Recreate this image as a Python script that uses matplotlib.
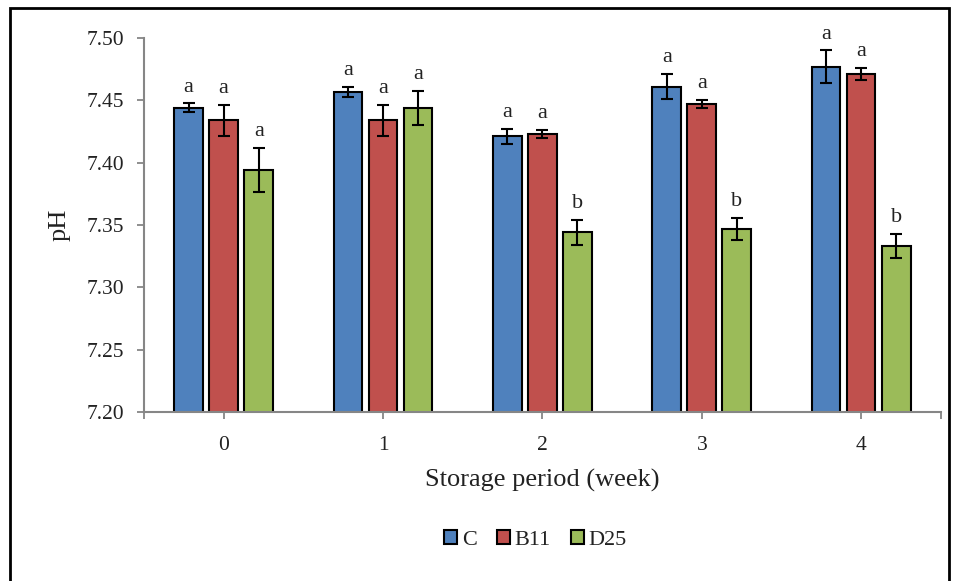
import numpy as np
import matplotlib.pyplot as plt
from matplotlib.patches import Rectangle

weeks = ['0', '1', '2', '3', '4']
series = ['C', 'B11', 'D25']
c_vals = [7.444, 7.457, 7.421, 7.461, 7.477]
c_err = [0.0035, 0.004, 0.006, 0.010, 0.013]
b11_vals = [7.434, 7.434, 7.423, 7.447, 7.471]
b11_err = [0.0125, 0.0125, 0.003, 0.003, 0.005]
d25_vals = [7.394, 7.444, 7.344, 7.347, 7.333]
d25_err = [0.0175, 0.0135, 0.010, 0.009, 0.0095]
c_letters = ['a', 'a', 'a', 'a', 'a']
b11_letters = ['a', 'a', 'a', 'a', 'a']
d25_letters = ['a', 'a', 'b', 'b', 'b']

colors = ['#4F81BD', '#C0504D', '#9BBB59']
vals = [c_vals, b11_vals, d25_vals]
errs = [c_err, b11_err, d25_err]
letters = [c_letters, b11_letters, d25_letters]

plt.rcParams['font.family'] = ['Liberation Serif', 'DejaVu Serif']

fig = plt.figure(figsize=(9.61, 5.81), dpi=100)
ax = fig.add_axes([0.1498, 0.2909, 0.8292, 0.6437])

x = np.arange(len(weeks))
offsets = [-0.22, 0, 0.22]
for i in range(3):
    ax.bar(x + offsets[i], vals[i], width=0.18, bottom=0, color=colors[i],
           edgecolor='black', linewidth=1.5, label=series[i], zorder=2)
    ax.errorbar(x + offsets[i], vals[i], yerr=errs[i], fmt='none', ecolor='black',
                elinewidth=1.5, capsize=4, capthick=1.5, zorder=3)
    for j in range(len(weeks)):
        ax.annotate(letters[i][j], (x[j] + offsets[i], vals[i][j] + errs[i][j]),
                    xytext=(0, 5), textcoords='offset points', ha='center', va='bottom',
                    fontsize=16, color='#222222')

ax.set_ylim(7.20, 7.50)
ax.set_xlim(-0.5, 4.5)
ax.set_yticks(np.arange(7.20, 7.501, 0.05))
ax.set_yticklabels(['%.2f' % v for v in np.arange(7.20, 7.501, 0.05)])
ax.set_xticks(x)
ax.set_xticklabels(weeks)
ax.set_xticks([-0.5, 4.5], minor=True)
ax.tick_params(axis='both', which='both', colors='#868686', labelcolor='#222222',
               labelsize=15.5, length=5, width=1.3)
ax.tick_params(axis='y', pad=9)
ax.tick_params(axis='x', pad=12)
for side in ['top', 'right']:
    ax.spines[side].set_visible(False)
for side in ['left', 'bottom']:
    ax.spines[side].set_color('#868686')
    ax.spines[side].set_linewidth(1.5)

ax.set_ylabel('pH', fontsize=19, color='#222222', labelpad=12)
ax.set_xlabel('Storage period (week)', fontsize=19, color='#222222', labelpad=10)

leg = fig.legend(loc='center', bbox_to_anchor=(0.557, 0.07), ncol=3, frameon=False,
                 fontsize=16, handlelength=0.6, handleheight=0.6, handletextpad=0.2,
                 columnspacing=0.9)
for txt in leg.get_texts():
    txt.set_color('#222222')

fig.patches.append(Rectangle((10 / 961, -0.01), 939 / 961, 1 - 8 / 581 + 0.01,
                             transform=fig.transFigure, fill=False,
                             edgecolor='black', linewidth=2))

fig.savefig('out.png', dpi=100)
